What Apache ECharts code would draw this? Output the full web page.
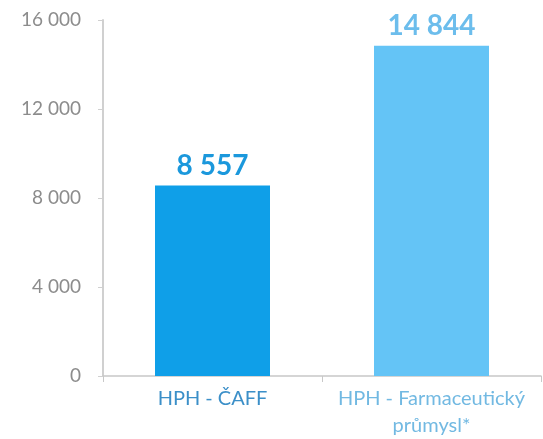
<!DOCTYPE html>
<html><head><meta charset="utf-8">
<script src="https://cdn.jsdelivr.net/npm/echarts@6/dist/echarts.min.js"></script>
<style>html,body{margin:0;padding:0;background:#fff}#c{width:543px;height:439px}</style>
</head><body><div id="c"></div>
<script>
const categories = ['HPH - ČAFF', 'HPH - Farmaceutický\nprůmysl*'];
const values = [8557, 14844];
const barColors = ['#0f9fe8', '#64c4f6'];
const labelColors = ['#1b98dc', '#6cbdec'];
const catColors = ['#3b8fc8', '#72b9e2'];
const yTicks = [0, 4000, 8000, 12000, 16000];

const fmt = v => String(v).replace(/\B(?=(\d{3})+(?!\d))/g, ' ');
const font = 'Lato, "Open Sans", sans-serif';

const chart = echarts.init(document.getElementById('c'));
chart.setOption({
  animation: false,
  grid: {left: 103, right: 2, top: 20, bottom: 61},
  xAxis: {
    type: 'category',
    data: categories.map((c, i) => ({value: c, textStyle: {color: catColors[i]}})),
    axisLine: {lineStyle: {color: '#c8c8c8', width: 1.5}},
    axisTick: {show: true, length: 6, lineStyle: {color: '#c8c8c8'}},
    axisLabel: {fontFamily: font, fontSize: 20, margin: 9, lineHeight: 27, interval: 0}
  },
  yAxis: {
    type: 'value',
    min: yTicks[0], max: yTicks[yTicks.length - 1], interval: 4000,
    axisLine: {show: true, lineStyle: {color: '#d0d0d0', width: 2}},
    axisTick: {show: true, length: 5, lineStyle: {color: '#d0d0d0'}},
    splitLine: {show: false},
    axisLabel: {fontFamily: font, fontSize: 19, color: '#8c8c8c', margin: 22, formatter: v => fmt(v)}
  },
  series: [{
    type: 'bar',
    barWidth: 115,
    data: values.map((v, i) => ({
      value: v,
      itemStyle: {color: barColors[i]},
      label: {color: labelColors[i]}
    })),
    label: {
      show: true, position: 'top', distance: 6,
      fontFamily: font, fontSize: 28, fontWeight: 'bold',
      formatter: p => fmt(p.value)
    }
  }]
});
</script></body></html>
